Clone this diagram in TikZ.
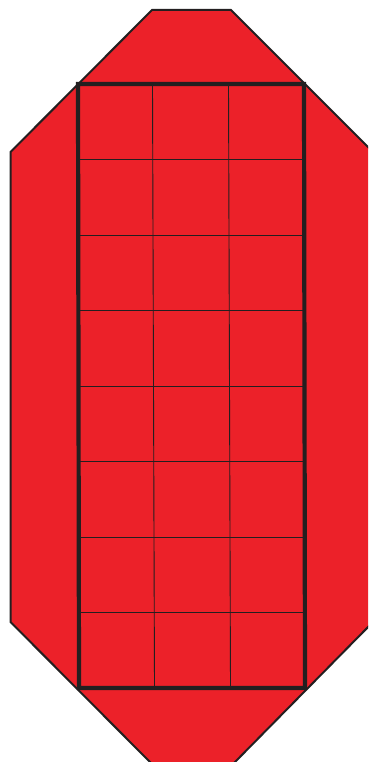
\documentclass[tikz,border=0pt]{standalone}
\usetikzlibrary{calc}
\definecolor{fillred}{HTML}{EC2129}
\definecolor{inkdark}{HTML}{231F20}
\tikzset{
  outerline/.style={draw=inkdark,line width=2pt,fill=fillred,line join=miter},
  gridline/.style={draw=inkdark,line width=0.9pt},
  frameline/.style={draw=inkdark,line width=4.2pt,line join=miter},
}
\begin{document}
\begin{tikzpicture}[x=1pt,y=-1pt]
\useasboundingbox (0,0) rectangle (368,762);
\begin{scope}
\clip (0,0) rectangle (368,762);
\path[outerline] (152,10) -- (231,10) -- (373,152) -- (373,622) -- (233,764) -- (152,764) -- (10.5,622) -- (10.5,152) -- cycle;
\end{scope}
% grid
\coordinate (tl) at (78,84);
\coordinate (tr) at (304,84);
\coordinate (bl) at (79,688);
\coordinate (br) at (305,688);
\foreach \i in {1,...,7}{
  \draw[gridline] ($(tl)!\i/8!(bl)$) -- ($(tr)!\i/8!(br)$);
}
\draw[gridline] (152.5,84) -- (154.5,688);
\draw[gridline] (228.5,84) -- (230.5,688);
\draw[frameline] (tl) -- (tr) -- (br) -- (bl) -- cycle;
\end{tikzpicture}
\end{document}
